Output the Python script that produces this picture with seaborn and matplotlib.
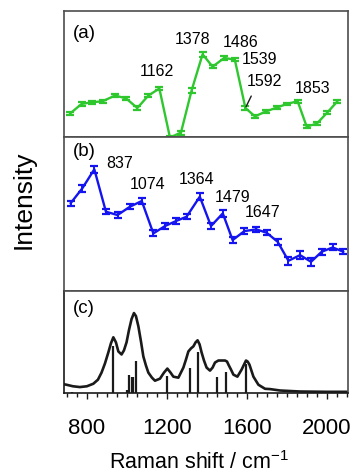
import numpy as np
import pandas as pd
import matplotlib
matplotlib.use('Agg')
import matplotlib.pyplot as plt
import seaborn as sns
from matplotlib.ticker import MultipleLocator

sns.set_theme(style='white')
plt.rcParams['font.family'] = ['Liberation Sans', 'DejaVu Sans']
plt.rcParams['mathtext.fontset'] = 'custom'
plt.rcParams['mathtext.rm'] = 'Liberation Sans'
plt.rcParams['axes.unicode_minus'] = False
plt.rcParams['text.color'] = 'black'
plt.rcParams['axes.labelcolor'] = 'black'
plt.rcParams['xtick.color'] = 'black'

# (a) measured spectrum, green
shift_a = [715, 773, 823, 878, 940, 995, 1052, 1107, 1162, 1215, 1270, 1323, 1378,
           1428, 1486, 1539, 1592, 1640, 1695, 1748, 1798, 1853, 1898, 1948, 2002, 2052]
int_a = [69, 98, 103, 106, 123, 115, 86, 123, 144, -2, 13, 138, 246,
         209, 235, 230, 86, 61, 76, 87, 98, 106, 31, 39, 73, 106]
err_a = [5, 5, 4, 4, 5, 5, 5, 5, 5, 4, 6, 8, 7,
         5, 5, 5, 5, 5, 4, 4, 4, 4, 5, 5, 5, 4]
peaks_a = [1162, 1378, 1486, 1539, 1592, 1853]

# (b) measured spectrum, blue
shift_b = [718, 777, 837, 895, 953, 1015, 1074, 1132, 1190, 1245, 1298, 1364, 1420,
           1479, 1528, 1587, 1647, 1698, 1753, 1807, 1865, 1920, 1973, 2028, 2082]
int_b = [262, 307, 364, 237, 227, 252, 269, 172, 194, 209, 222, 282, 194,
         232, 152, 179, 184, 174, 147, 90, 107, 87, 117, 130, 117]
err_b = [7, 10, 10, 8, 9, 8, 9, 9, 8, 8, 8, 10, 9,
         10, 10, 8, 8, 8, 9, 12, 12, 12, 9, 9, 8]
peaks_b = [837, 1074, 1364, 1479, 1647]

# (c) calculated spectrum
shift_c = [685, 698, 730, 765, 800, 832, 855, 873, 890, 907, 920, 932, 945, 957, 973,
           985, 998, 1010, 1023, 1035, 1045, 1057, 1070, 1082, 1095, 1107, 1125, 1140,
           1165, 1185, 1202, 1218, 1232, 1257, 1282, 1295, 1307, 1320, 1332, 1343, 1353,
           1363, 1373, 1385, 1398, 1415, 1428, 1440, 1457, 1473, 1490, 1500, 1507, 1520,
           1532, 1552, 1573, 1585, 1595, 1603, 1612, 1632, 1657, 1690, 1715, 1765, 1865,
           1998, 2100]
int_c = [8.5, 8, 6.5, 5.7, 6.5, 9, 13, 20, 29, 40, 49, 55, 50, 41, 38,
         42, 50, 62, 73, 79, 76, 66, 51, 36, 27, 20, 15, 12,
         14, 20, 24, 20, 16, 15, 25, 33, 41, 44, 46, 50, 52,
         48, 40, 32, 25, 22, 25, 30, 32, 32, 32, 31, 28, 23,
         18, 16, 23, 28, 32, 31, 28, 16, 8, 4, 3.7, 2.3, 1.3,
         1, 1]
stick_pos = [723, 932, 998, 1012, 1023, 1032, 1043, 1202, 1315, 1353, 1452, 1493, 1595]
stick_int = [1, 46, 3, 18, 16, 16, 32, 17, 25, 40, 16, 21, 29]

green = '#2ec82e'
blue = '#1414f0'
spine_col = '0.3'

fig = plt.figure(figsize=(3.57, 4.75), dpi=100)
gs = fig.add_gridspec(3, 1, height_ratios=[126, 154, 102], hspace=0,
                      left=0.179, right=0.975, top=0.977, bottom=0.173)
axes = [fig.add_subplot(gs[i]) for i in range(3)]


def draw_exp(ax, x, y, e, color):
    df = pd.DataFrame({'x': x, 'y': y})
    sns.lineplot(data=df, x='x', y='y', ax=ax, color=color, lw=1.7, clip_on=False)
    ax.errorbar(x, y, yerr=e, fmt='none', ecolor=color, elinewidth=1.4,
                capsize=3.2, capthick=1.6, clip_on=False)


draw_exp(axes[0], shift_a, int_a, err_a, green)
draw_exp(axes[1], shift_b, int_b, err_b, blue)

axes[0].set_ylim(0, 375)
axes[1].set_ylim(0, 461)

# peak labels
offs_a = {1162: (-1.5, 12.5), 1378: (-7.5, 10.5), 1486: (12, 11),
          1539: (18, 0), 1592: (14, 19), 1853: (11, 9)}
for p in peaks_a:
    i = shift_a.index(p)
    axes[0].annotate(str(p), (shift_a[i], int_a[i]), xytext=offs_a[p],
                     textcoords='offset points', ha='center', va='center',
                     fontsize=11.5)
# pointer line to the 1592 band
i = shift_a.index(1592)
axes[0].annotate('', (shift_a[i], int_a[i]), xytext=(4.2, 8.6),
                 textcoords='offset points',
                 arrowprops=dict(arrowstyle='-', color='k', lw=1.0,
                                 shrinkA=0, shrinkB=1))

offs_b = {837: (18.5, 4), 1074: (4, 12), 1364: (-2, 12.5),
          1479: (7, 11.5), 1647: (4.5, 12)}
for p in peaks_b:
    i = shift_b.index(p)
    axes[1].annotate(str(p), (shift_b[i], int_b[i]), xytext=offs_b[p],
                     textcoords='offset points', ha='center', va='center',
                     fontsize=11.5)

# calculated
dfc = pd.DataFrame({'x': shift_c, 'y': int_c})
sns.lineplot(data=dfc, x='x', y='y', ax=axes[2], color='k', lw=1.9)
axes[2].vlines(stick_pos, 0, stick_int, color='k', lw=1.6)
axes[2].set_ylim(0, 101)

for ax, lab, ypos in zip(axes, ['(a)', '(b)', '(c)'], [0.82, 0.905, 0.83]):
    ax.set_xlim(685, 2105)
    ax.set_yticks([])
    ax.set_ylabel('')
    ax.set_xlabel('')
    ax.text(0.03, ypos, lab, transform=ax.transAxes, fontsize=13.5,
            ha='left', va='center')
    for s in ax.spines.values():
        s.set_color(spine_col)
        s.set_linewidth(1.2)

for ax in axes[:2]:
    ax.tick_params(axis='x', bottom=False, labelbottom=False)

axes[2].xaxis.set_major_locator(MultipleLocator(400))
axes[2].xaxis.set_minor_locator(MultipleLocator(50))
axes[2].tick_params(axis='x', which='major', bottom=True, direction='out',
                    length=4.5, width=1, color='k', labelsize=16, pad=13.5)
axes[2].tick_params(axis='x', which='minor', bottom=True, direction='out',
                    length=3, width=1, color='k')
axes[2].spines['bottom'].set_color('k')
axes[2].spines['left'].set_color('k')
fig.text(0.557, 0.013, r'Raman shift / cm$^{\mathregular{-1}}$', fontsize=15.5,
         ha='center', va='baseline')
fig.text(0.067, 0.579, 'Intensity', rotation=90, fontsize=19, ha='center', va='center')

fig.savefig('out.png', dpi=100)
